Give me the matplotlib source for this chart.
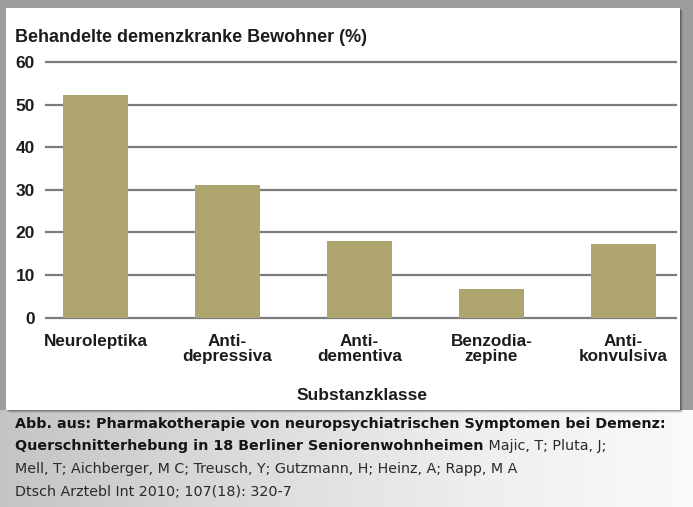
import matplotlib
matplotlib.use("Agg")
import matplotlib.pyplot as plt
import numpy as np
from matplotlib.patches import Rectangle

categories = ["Neuroleptika", "Anti-\ndepressiva", "Anti-\ndementiva",
              "Benzodia-\nzepine", "Anti-\nkonvulsiva"]
values = [52.2, 31.2, 18.0, 6.6, 17.2]
y_ticks = [0, 10, 20, 30, 40, 50, 60]

title = "Behandelte demenzkranke Bewohner (%)"
x_title = "Substanzklasse"
caption_bold = ["Abb. aus: Pharmakotherapie von neuropsychiatrischen Symptomen bei Demenz:",
                "Querschnitterhebung in 18 Berliner Seniorenwohnheimen"]
caption_regular = [" Majic, T; Pluta, J;",
                   "Mell, T; Aichberger, M C; Treusch, Y; Gutzmann, H; Heinz, A; Rapp, M A",
                   "Dtsch Arztebl Int 2010; 107(18): 320-7"]

W, H = 693, 507
BAR = "#aea46e"
GRID = "#7d7d7d"
INK = "#1c1c1c"
CAP = 10.3

fig = plt.figure(figsize=(W / 100, H / 100), dpi=100)
fig.patch.set_facecolor("#9d9d9d")

# caption background: grey-to-light gradient
bg = fig.add_axes([0, 0, 1, 97 / H], zorder=0)
grad = np.linspace(0, 1, 256)[None, :]
bg.imshow(grad, aspect="auto", cmap="Greys_r", vmin=-2.2, vmax=1.15,
          extent=[0, 1, 0, 1])
bg.set_axis_off()

# white chart panel with a soft shadow on the right and below
for i, a in enumerate([0.08, 0.14, 0.22]):
    fig.patches.append(Rectangle(((6 + 3 - i) / W, (H - 413 + i) / H), 674 / W, 402 / H,
                                 transform=fig.transFigure, facecolor="black",
                                 alpha=a, edgecolor="none", zorder=1))
fig.patches.append(Rectangle((6 / W, (H - 410) / H), 674 / W, 402 / H,
                             transform=fig.transFigure, facecolor="white",
                             edgecolor="none", zorder=2))

ax = fig.add_axes([46 / W, (H - 317.5) / H, 630 / W, 255.5 / H], zorder=3)
ax.set_facecolor("none")
x = np.arange(len(categories))
ax.bar(x, values, width=0.49, color=BAR, zorder=3)
ax.set_xlim(-0.375, 4.4)
ax.set_ylim(0, 60)
ax.set_yticks(y_ticks)
ax.set_yticklabels([str(t) for t in y_ticks], fontsize=12.5, fontweight="bold",
                   color=INK, family="Liberation Sans")
ax.set_xticks(x)
ax.set_xticklabels(categories, fontsize=12.3, fontweight="bold", color=INK,
                   family="Liberation Sans", linespacing=0.95)
ax.tick_params(axis="y", length=0, pad=8)
ax.tick_params(axis="x", length=0, pad=12)
for t in y_ticks:
    ax.axhline(t, color=GRID, lw=1.6, zorder=1, clip_on=False)
for s in ax.spines.values():
    s.set_visible(False)

fig.text(15 / W, 1 - 38 / H, title, fontsize=13, fontweight="bold",
         color=INK, family="Liberation Sans", va="center", ha="left", zorder=4)
fig.text(362 / W, 1 - 395 / H, x_title, fontsize=12.5, fontweight="bold",
         color=INK, family="Liberation Sans", va="center", ha="center", zorder=4)

# caption
line_y = [424, 446, 469, 492]
t1 = fig.text(15 / W, 1 - line_y[0] / H, caption_bold[0], fontsize=CAP,
              fontweight="bold", color="#151515", family="DejaVu Sans",
              va="center", ha="left", zorder=4)
t2 = fig.text(15 / W, 1 - line_y[1] / H, caption_bold[1], fontsize=CAP,
              fontweight="bold", color="#151515", family="DejaVu Sans",
              va="center", ha="left", zorder=4)
fig.canvas.draw()
bb = t2.get_window_extent()
fig.text(bb.x1 / W, 1 - line_y[1] / H, caption_regular[0], fontsize=CAP,
         color="#2a2a2a", family="DejaVu Sans", va="center", ha="left", zorder=4)
for txt, yy in zip(caption_regular[1:], line_y[2:]):
    fig.text(15 / W, 1 - yy / H, txt, fontsize=CAP, color="#2a2a2a",
             family="DejaVu Sans", va="center", ha="left", zorder=4)

fig.savefig("out.png", dpi=100, facecolor=fig.get_facecolor())
